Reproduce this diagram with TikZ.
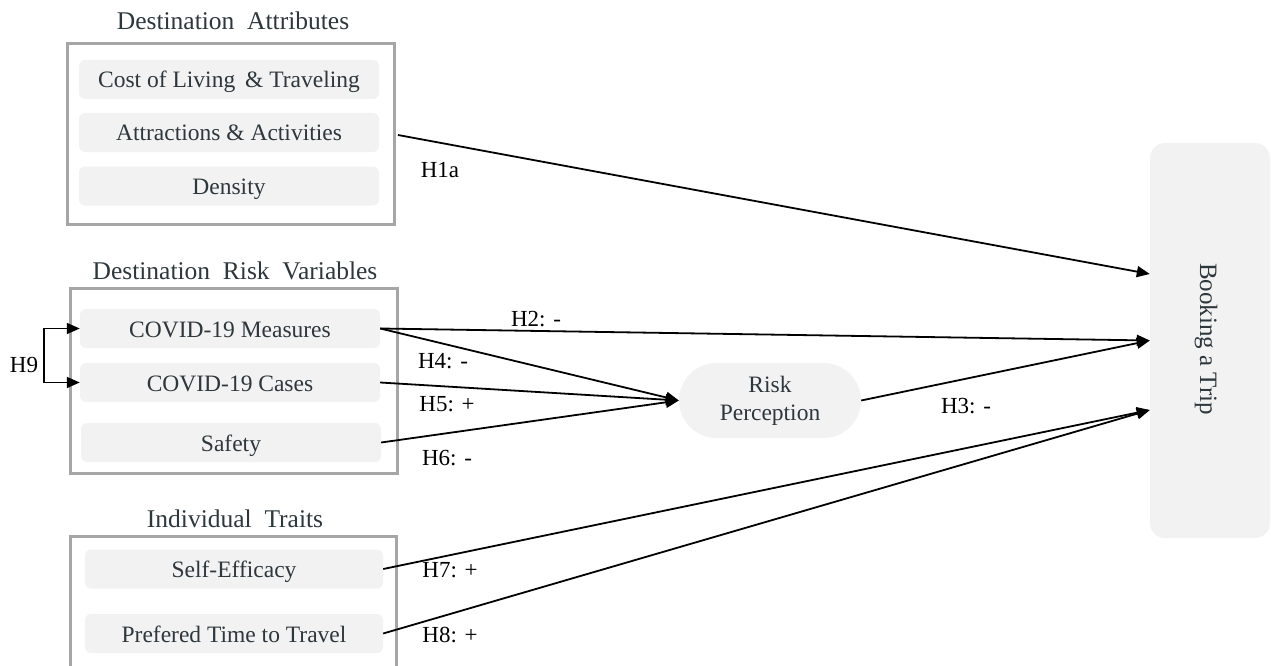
\documentclass[tikz,border=0pt]{standalone}
\usepackage{fontspec}
\setmainfont{Liberation Serif}
\usepackage{tikz}
\usetikzlibrary{arrows.meta}
\definecolor{boxfill}{RGB}{242,242,242}
\definecolor{frame}{RGB}{166,166,166}
\definecolor{ink}{RGB}{45,55,60}

\begin{document}
\begin{tikzpicture}[x=1pt, y=-1pt,
		group/.style={draw=frame, line width=3pt},
		item/.style={fill=boxfill, rounded corners=6pt, minimum width=300pt, minimum height=39pt, inner sep=0pt, text height=17pt, text depth=0pt, text=ink, font=\fontsize{23.5}{28}\selectfont},
		title/.style={anchor=base, text=ink, font=\fontsize{25.5}{30}\selectfont},
		hyp/.style={anchor=base, font=\fontsize{23}{27}\selectfont},
		link/.style={line width=1.8pt, -{Triangle[length=13pt, width=11pt]}},
		twoway/.style={line width=1.8pt, {Triangle[length=13pt, width=11pt]}-{Triangle[length=13pt, width=11pt]}}]
		\useasboundingbox (0,0) rectangle (1271,666);
		\clip (0,0) rectangle (1271,666);

		\draw[group] (67,44) rectangle (394,224);
		\draw[group] (70,288) rectangle (397,473);
		\draw[group] (70,536) rectangle (396,700);

		\node[title] (attrt) at (233,30) {Destination\ \ Attributes};
		\node[title] (riskt) at (235,279) {Destination\ \ Risk\ \ Variables};
		\node[title] (indt) at (235,527) {Individual\ \ Traits};

		\node[item] (cost) at (229,79.5) {Cost of Living\hspace{4pt} \& Traveling};
		\node[item] (attr) at (229,132.5) {Attractions \& Activities};
		\node[item] (dens) at (229,186) {Density};

		\node[item] (meas) at (230,328.5) {COVID-19 Measures};
		\node[item] (cases) at (230,382.5) {COVID-19 Cases};
		\node[item] (safe) at (231,442.5) {Safety};

		\node[item, minimum width=298pt] (self) at (234,569) {Self-Efficacy};
		\node[item, minimum width=298pt] (pref) at (234,633.5) {Prefered Time to Travel};

		\node[fill=boxfill, rounded corners=37.5pt, minimum width=182pt, minimum height=75pt, inner sep=0pt, align=center, text=ink, font=\fontsize{23.5}{28}\selectfont] (risk) at (770,400.5) {Risk\\Perception};
		\node[fill=boxfill, rounded corners=15pt, minimum width=120pt, minimum height=395pt] (trip) at (1210,340.5) {};
		\node[rotate=-90, anchor=base, text=ink, font=\fontsize{25}{30}\selectfont] (tripl) at (1200,339) {Booking a Trip};

		\coordinate (h1) at (398,135);
		\coordinate (t1) at ([yshift=66.5pt]trip.west);
		\coordinate (t3) at ([yshift=-69.5pt]trip.west);

		\draw[link] (h1) -- (t1);
		\draw[link] (meas.east) -- (trip.west);
		\draw[link] (meas.east) -- (risk.west);
		\draw[link] (cases.east) -- (risk.west);
		\draw[link] (safe.east) -- (risk.west);
		\draw[link] (risk.east) -- (trip.west);
		\draw[link] (self.east) -- (t3);
		\draw[link] (pref.east) -- (t3);
		\draw[twoway] (meas.west) -- ++(-36,0) |- (cases.west);

		\node[hyp] (l1a) at (440,177) {H1a};
		\node[hyp] (l2) at (536,326) {H2: -};
		\node[hyp] (l4) at (443,368) {H4: -};
		\node[hyp] (l5) at (447,411) {H5: +};
		\node[hyp] (l6) at (447,465) {H6: -};
		\node[hyp] (l3) at (966,413) {H3: -};
		\node[hyp] (l7) at (450,577) {H7: +};
		\node[hyp] (l8) at (450,642) {H8: +};
		\node[hyp] (l9) at (24,372) {H9};
	\end{tikzpicture}
\end{document}
